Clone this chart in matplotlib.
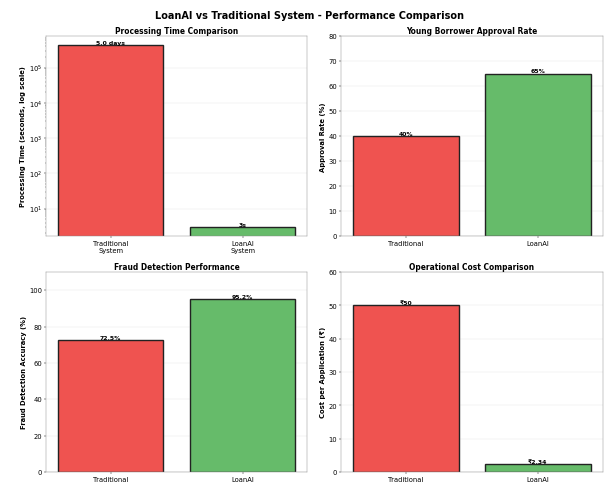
import numpy as np
import matplotlib
matplotlib.use("Agg")
import matplotlib.pyplot as plt

systems = ["Traditional", "LoanAI"]
time_labels = ["Traditional\nSystem", "LoanAI\nSystem"]
proc_seconds = [432000, 3]
proc_text = ["5.0 days", "3s"]
approval = [40, 65]
fraud = [72.5, 95.2]
cost = [50, 2.34]

colors = ["#EF5350", "#66BB6A"]

fig, axes = plt.subplots(2, 2, figsize=(15, 12.07))
fig.subplots_adjust(left=0.076, right=0.996, top=0.924, bottom=0.029, wspace=0.13, hspace=0.18)
fig.suptitle("LoanAI vs Traditional System - Performance Comparison", fontsize=17.5, fontweight="bold",
             x=0.512, y=0.978)

def style(ax, title, ylabel):
    ax.set_title(title, fontsize=13.5, fontweight="bold", pad=5)
    ax.set_ylabel(ylabel, fontsize=12, fontweight="bold")
    ax.tick_params(labelsize=12)
    ax.grid(axis="y", alpha=0.3)
    ax.set_axisbelow(True)
    for s in ax.spines.values():
        s.set_color("#888888")

# processing time
ax = axes[0, 0]
bars = ax.bar(time_labels, proc_seconds, color=colors, edgecolor="#222222", linewidth=2.5)
ax.set_yscale("log")
for b, t in zip(bars, proc_text):
    ax.text(b.get_x() + b.get_width() / 2, b.get_height(), t, ha="center", va="bottom", fontsize=11, fontweight="bold")
style(ax, "Processing Time Comparison", "Processing Time (seconds, log scale)")

# approval
ax = axes[0, 1]
bars = ax.bar(systems, approval, color=colors, edgecolor="#222222", linewidth=2.5)
for b, v in zip(bars, approval):
    ax.text(b.get_x() + b.get_width() / 2, v, f"{v}%", ha="center", va="bottom", fontsize=11, fontweight="bold")
ax.set_ylim(0, 80)
style(ax, "Young Borrower Approval Rate", "Approval Rate (%)")

# fraud
ax = axes[1, 0]
bars = ax.bar(systems, fraud, color=colors, edgecolor="#222222", linewidth=2.5)
for b, v in zip(bars, fraud):
    ax.text(b.get_x() + b.get_width() / 2, v, f"{v}%", ha="center", va="bottom", fontsize=11, fontweight="bold")
ax.set_ylim(0, 110)
ax.set_yticks([0, 20, 40, 60, 80, 100])
style(ax, "Fraud Detection Performance", "Fraud Detection Accuracy (%)")

# cost
ax = axes[1, 1]
bars = ax.bar(systems, cost, color=colors, edgecolor="#222222", linewidth=2.5)
for b, v in zip(bars, cost):
    ax.text(b.get_x() + b.get_width() / 2, v, f"₹{v:g}", ha="center", va="bottom", fontsize=11, fontweight="bold")
ax.set_ylim(0, 60)
style(ax, "Operational Cost Comparison", "Cost per Application (₹)")

fig.savefig("out.png", dpi=40.33)
